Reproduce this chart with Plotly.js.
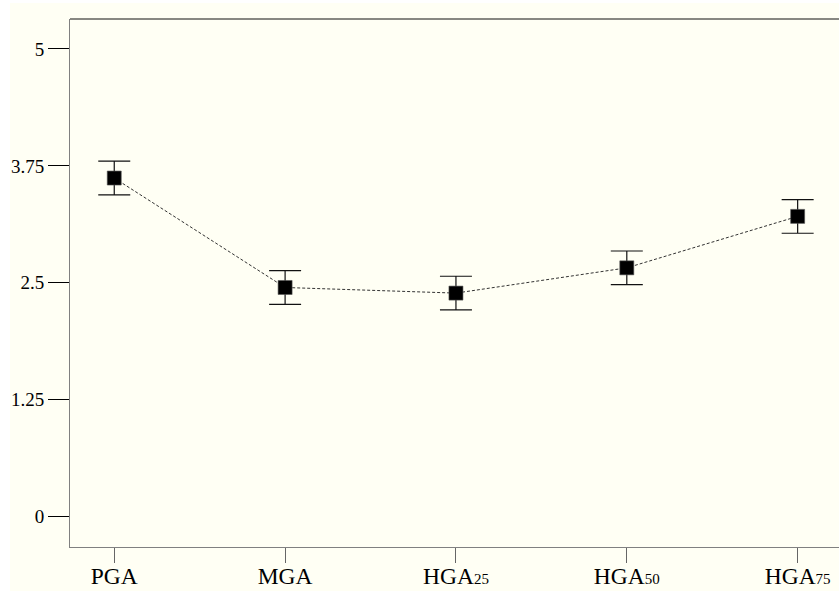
<!DOCTYPE html>
<html>
<head>
<meta charset="utf-8">
<script src="https://cdn.plot.ly/plotly-3.0.1.min.js"></script>
<style>
  html, body { margin: 0; padding: 0; background: #ffffff; }
  #chart { position: absolute; left: 10px; top: 3px; width: 829px; height: 588px; }
</style>
</head>
<body>
<div id="chart"></div>
<script>
// Data
const categories = ["PGA", "MGA", "HGA25", "HGA50", "HGA75"];
const tickLabels = [
  "PGA",
  "MGA",
  "HGA<span style=\"font-size:15px\">25</span>",
  "HGA<span style=\"font-size:15px\">50</span>",
  "HGA<span style=\"font-size:15px\">75</span>"
];
const means = [3.62, 2.45, 2.39, 2.66, 3.21];
const errors = [0.18, 0.18, 0.18, 0.18, 0.18];
const yTickVals = [0, 1.25, 2.5, 3.75, 5];
const yTickText = ["0", "1.25", "2.5", "3.75", "5"];

const cream = "#fffff4";
const serif = "Liberation Serif, Times New Roman, serif";

const trace = {
  type: "scatter",
  mode: "lines+markers",
  x: categories,
  y: means,
  line: { color: "#333333", width: 1, dash: "3px,2px" },
  marker: { symbol: "square", size: 14, color: "#000000",
            line: { color: "#555555", width: 0.6 } },
  error_y: { type: "data", array: errors, visible: true,
             color: "#111111", thickness: 1.2, width: 16 },
  hoverinfo: "x+y"
};

const layout = {
  width: 829,
  height: 588,
  margin: { l: 60, r: 0, t: 16, b: 44, pad: 0 },
  paper_bgcolor: cream,
  plot_bgcolor: cream,
  showlegend: false,
  font: { family: serif, color: "#000000" },
  xaxis: {
    type: "category",
    range: [-0.259, 4.242],
    tickmode: "array",
    tickvals: categories,
    ticktext: tickLabels,
    ticks: "outside",
    ticklen: 15,
    tickwidth: 1,
    tickcolor: "#666666",
    ticklabelstandoff: -7,
    showline: true,
    linecolor: "#808080",
    linewidth: 1,
    showgrid: false,
    zeroline: false,
    tickfont: { family: serif, size: 23.5, color: "#000000" }
  },
  yaxis: {
    range: [-0.324, 5.32],
    tickmode: "array",
    tickvals: yTickVals,
    ticktext: yTickText,
    ticks: "outside",
    ticklen: 21,
    tickwidth: 1,
    tickcolor: "#000000",
    showline: true,
    linecolor: "#808080",
    linewidth: 1,
    showgrid: false,
    zeroline: false,
    tickfont: { family: serif, size: 19, color: "#000000" }
  },
  shapes: [
    { type: "line", xref: "paper", yref: "paper", x0: 0, x1: 1, y0: 1, y1: 1,
      line: { color: "#111111", width: 1 } }
  ]
};

Plotly.newPlot("chart", [trace], layout, { displayModeBar: false, staticPlot: true });
</script>
</body>
</html>
